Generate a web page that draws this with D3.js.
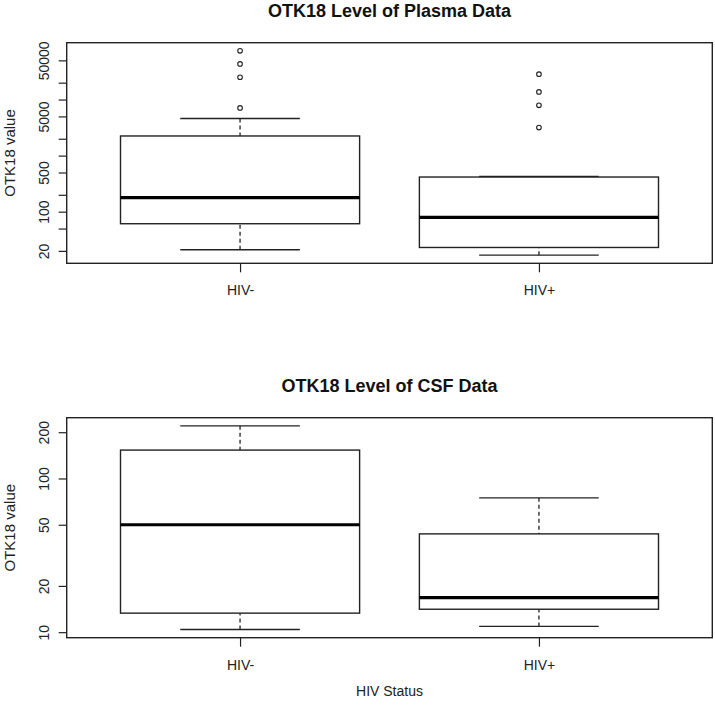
<!DOCTYPE html>
<html lang="en">
<head>
<meta charset="UTF-8">
<title>OTK18 boxplots</title>
<script src="https://d3js.org/d3.v7.min.js"></script>
<style>
body { margin: 0; background: #fff; }
svg { display: block; font-family: 'Liberation Sans', Arial, sans-serif; }
.title { font-size: 18px; font-weight: bold; fill: #111; text-anchor: middle; }
.lab { font-size: 14px; fill: #222; text-anchor: middle; }
.ylab { font-size: 15px; fill: #222; text-anchor: middle; }
</style>
</head>
<body>
<svg width="715" height="707"></svg>
<script>
// groups
var groups = ["HIV-", "HIV+"];

// plasma: [lower whisker, Q1, median, Q3, upper whisker]
var plasmaNeg = [20.9, 61, 178, 2240, 4580];
var plasmaPos = [16.8, 23, 79, 415, 427];
var plasmaNegOut = [7080, 25000, 43200, 73800];
var plasmaPosOut = [3160, 7900, 13700, 28300];
var plasmaTicks = [20, 50, 100, 200, 500, 1000, 2000, 5000, 10000, 20000, 50000];
var plasmaLabels = [20, 100, 500, 5000, 50000];

// csf
var csfNeg = [10.4, 13.3, 50, 153, 220];
var csfPos = [10.9, 14.1, 16.8, 43.6, 74.8];
var csfNegOut = [];
var csfPosOut = [];
var csfTicks = [10, 20, 50, 100, 200];
var csfLabels = [10, 20, 50, 100, 200];

var svg = d3.select("svg");
var left = 66.7, right = 712.3;

function panel(top, bottom, title, stats, outs, ticks, labels, xlab) {
    var g = svg.append("g");
    var all = [];
    stats.forEach(function(s) { all = all.concat(s); });
    outs.forEach(function(o) { all = all.concat(o); });
    var lo = Math.log10(d3.min(all)), hi = Math.log10(d3.max(all));
    var e = (hi - lo) * 0.04;
    var y = d3.scaleLog()
        .domain([Math.pow(10, lo - e), Math.pow(10, hi + e)])
        .range([bottom, top]);
    var x = d3.scaleLinear()
        .domain([0.5 - 0.08, 2.5 + 0.08])
        .range([left, right]);
    var hw = x(1.4) - x(1);

    // title
    g.append("text").attr("class", "title")
        .attr("x", (left + right) / 2).attr("y", top - 26)
        .text(title);

    // y axis
    var yAxis = d3.axisLeft(y)
        .tickValues(ticks)
        .tickSize(8)
        .tickFormat(function(d) { return labels.indexOf(d) >= 0 ? d : ""; });
    var ya = g.append("g").attr("transform", "translate(" + left + ",0)").call(yAxis);
    ya.select(".domain").remove();
    ya.selectAll("line").attr("stroke", "#222").attr("stroke-width", 1.2);
    ya.selectAll("text")
        .attr("font-size", 14).attr("fill", "#222")
        .attr("font-family", "'Liberation Sans', Arial, sans-serif")
        .attr("text-anchor", "middle")
        .attr("dy", 0)
        .attr("x", 0).attr("y", 0)
        .attr("transform", "translate(-18,0) rotate(-90)");

    // x axis ticks
    var xAxis = d3.axisBottom(x)
        .tickValues([1, 2])
        .tickSize(9)
        .tickFormat(function(d) { return groups[d - 1]; });
    var xa = g.append("g").attr("transform", "translate(0," + bottom + ")").call(xAxis);
    xa.select(".domain").remove();
    xa.selectAll("line").attr("stroke", "#222").attr("stroke-width", 1.2);
    xa.selectAll("text")
        .attr("font-size", 14).attr("fill", "#222")
        .attr("font-family", "'Liberation Sans', Arial, sans-serif")
        .attr("dy", 0).attr("y", 32);

    // y label
    g.append("text").attr("class", "ylab")
        .attr("transform", "translate(15," + (top + bottom) / 2 + ") rotate(-90)")
        .text("OTK18 value");

    if (xlab) {
        g.append("text").attr("class", "lab")
            .attr("x", (left + right) / 2).attr("y", bottom + 58)
            .text(xlab);
    }

    // boxes
    stats.forEach(function(s, i) {
        var cx = x(i + 1);
        var b = g.append("g").attr("stroke", "#222").attr("fill", "none");
        // whiskers
        b.append("line").attr("x1", cx).attr("x2", cx)
            .attr("y1", y(s[0])).attr("y2", y(s[1]))
            .attr("stroke-width", 1.3).attr("stroke-dasharray", "4,3");
        b.append("line").attr("x1", cx).attr("x2", cx)
            .attr("y1", y(s[4])).attr("y2", y(s[3]))
            .attr("stroke-width", 1.3).attr("stroke-dasharray", "4,3");
        [s[0], s[4]].forEach(function(v) {
            b.append("line").attr("x1", cx - hw / 2).attr("x2", cx + hw / 2)
                .attr("y1", y(v)).attr("y2", y(v)).attr("stroke-width", 1.4);
        });
        b.append("rect")
            .attr("x", cx - hw).attr("width", hw * 2)
            .attr("y", y(s[3])).attr("height", y(s[1]) - y(s[3]))
            .attr("fill", "#fff").attr("stroke-width", 1.4);
        b.append("line").attr("x1", cx - hw).attr("x2", cx + hw)
            .attr("y1", y(s[2])).attr("y2", y(s[2]))
            .attr("stroke", "#000").attr("stroke-width", 3.2);
        b.selectAll("circle").data(outs[i]).enter().append("circle")
            .attr("cx", cx).attr("cy", function(d) { return y(d); })
            .attr("r", 2.3).attr("stroke-width", 1.1);
    });

    // frame
    g.append("rect")
        .attr("x", left).attr("y", top)
        .attr("width", right - left).attr("height", bottom - top)
        .attr("fill", "none").attr("stroke", "#222").attr("stroke-width", 1.4);
}

panel(42.7, 263.3, "OTK18 Level of Plasma Data",
    [plasmaNeg, plasmaPos], [plasmaNegOut, plasmaPosOut], plasmaTicks, plasmaLabels, null);
panel(417.7, 637.7, "OTK18 Level of CSF Data",
    [csfNeg, csfPos], [csfNegOut, csfPosOut], csfTicks, csfLabels, "HIV Status");
</script>
</body>
</html>
